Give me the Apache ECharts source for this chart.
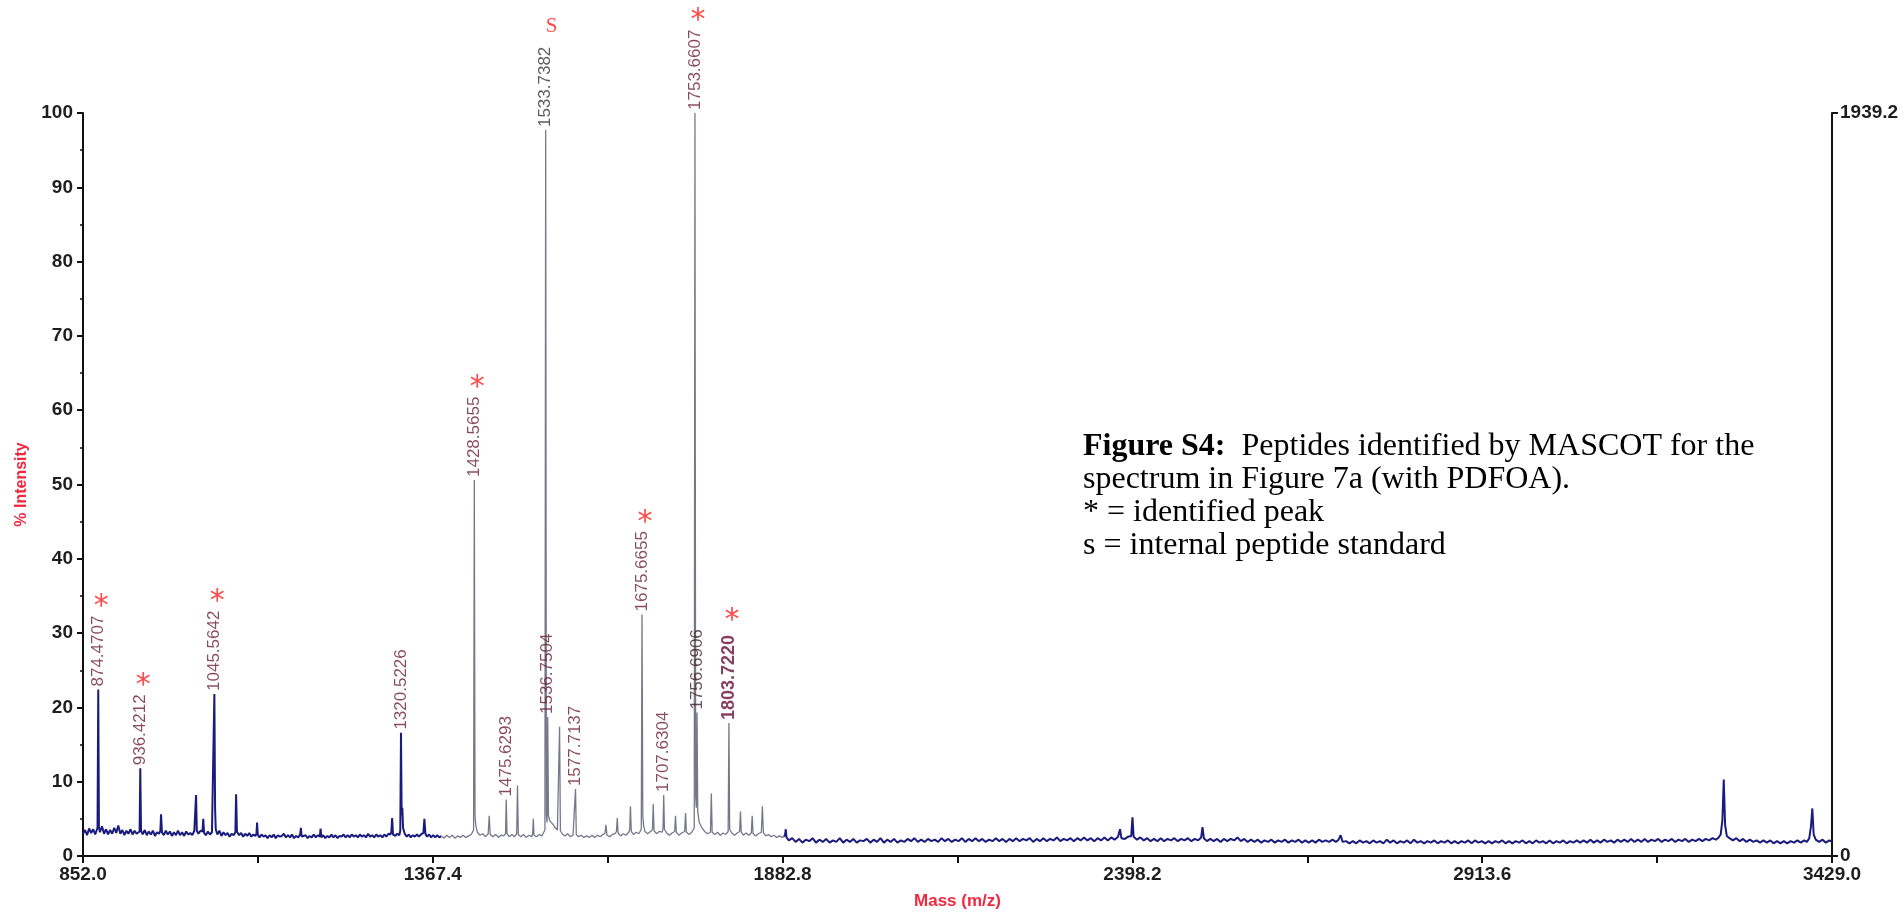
<!DOCTYPE html>
<html><head><meta charset="utf-8">
<script src="https://cdn.jsdelivr.net/npm/echarts@6/dist/echarts.min.js"></script>
<style>html,body{margin:0;padding:0;background:#fff}#c{width:1904px;height:915px}</style>
</head><body><div id="c"></div><script>
// ---- data ----
const xTickLabels = ['852.0', '1367.4', '1882.8', '2398.2', '2913.6', '3429.0'];
const rightAxisLabels = ['0', '1939.2'];

// trace segment 852-1380 (dark blue)
const leftTrace = [
[852,3.0],[855,3.5],[858,2.8],[861,3.7],[864,3.1],[867,3.6],[870,2.9],[873.4,3.8],[874.4707,22.4],[875.5,3.9],[877,3.2],[880,4.0],[883,3.0],[886,3.6],[889,2.9],[892,3.5],[895,3.0],[898,3.8],[901,3.1],[904,4.1],[907,3.0],[910,3.5],[913,2.8],[916,3.4],[919,3.0],[922,3.6],[925,2.9],[928,3.4],[931,3.0],[935.4,3.3],[936.4212,11.8],[937.5,3.4],[940,2.9],[943,3.5],[946,2.8],[949,3.3],[952,2.9],[955,3.4],[958,2.7],[961,3.2],[964,3.0],[966,3.4],[967,5.6],[968.3,3.2],[971,2.8],[974,3.4],[977,2.9],[980,3.3],[983,2.7],[986,3.2],[989,2.8],[992,3.4],[995,2.8],[998,3.2],[1001,2.7],[1004,3.3],[1007,2.9],[1010,3.1],[1013,2.8],[1016,3.4],[1017.6,3.6],[1018.6,8.2],[1019.7,3.4],[1022,3.0],[1025,3.4],[1028,3.3],[1029.2,5.0],[1030.4,3.1],[1033,2.8],[1036,3.3],[1039,2.9],[1042,3.2],[1044.5,3.4],[1045.5642,21.8],[1046.6,6.5],[1047.6,3.6],[1050,2.9],[1053,3.4],[1056,2.7],[1059,3.2],[1062,2.8],[1065,3.1],[1068,2.6],[1071,3.0],[1074,2.8],[1076.5,3.2],[1077.6,8.3],[1078.8,3.3],[1082,2.8],[1085,3.1],[1088,2.6],[1091,3.0],[1094,2.7],[1097,3.1],[1100,2.6],[1103,2.9],[1106,2.7],[1107.6,3.0],[1108.5,4.5],[1109.5,2.9],[1112,2.5],[1115,2.9],[1118,2.6],[1121,2.8],[1124,2.4],[1127,2.8],[1130,2.5],[1133,2.9],[1136,2.4],[1139,2.8],[1142,2.6],[1145,2.7],[1148,3.0],[1151,2.5],[1154,2.8],[1157,2.5],[1160,2.9],[1163,2.4],[1166,2.7],[1169,2.5],[1172,2.9],[1173,3.8],[1174.2,2.6],[1177,2.5],[1180,2.8],[1183,2.4],[1186,2.7],[1189,2.5],[1192,2.9],[1195,2.5],[1198,2.8],[1201,2.6],[1202,3.7],[1203.2,2.5],[1206,2.8],[1209,2.4],[1212,2.7],[1215,2.5],[1218,2.9],[1221,2.5],[1224,2.8],[1227,2.4],[1230,2.7],[1233,2.6],[1236,2.9],[1239,2.5],[1242,2.8],[1245,2.5],[1248,2.9],[1251,2.6],[1254,2.8],[1257,2.5],[1260,2.9],[1263,2.6],[1266,2.8],[1269,2.5],[1272,3.0],[1275,2.6],[1278,2.8],[1281,2.5],[1284,2.9],[1287,2.6],[1290,2.8],[1293,2.5],[1296,2.9],[1299,2.6],[1302,3.0],[1305,2.9],[1306.4,3.3],[1307.5,5.1],[1308.7,2.9],[1312,2.7],[1315,3.0],[1318,2.8],[1319.5,3.4],[1320.5226,16.6],[1321.5,5.5],[1322.5,6.5],[1323.6,3.8],[1326,3.0],[1329,2.6],[1332,2.9],[1335,2.5],[1338,2.8],[1341,2.6],[1344,2.9],[1347,2.6],[1350,2.9],[1353.5,3.1],[1355,5.0],[1356.5,3.0],[1359,2.6],[1362,2.9],[1365,2.5],[1368,2.8],[1371,2.5],[1374,2.8],[1377,2.5],[1380,2.7]
];
// trace segment 1380-1885 (grey)
const midTrace = [
[1380,2.7],[1384,2.4],[1388,2.8],[1392,2.5],[1396,2.8],[1400,2.4],[1404,2.7],[1408,2.5],[1412,2.8],[1416,2.5],[1420,2.7],[1424,2.9],[1427.5,3.5],[1428.5655,50.6],[1429.6,5.5],[1430.6,4.2],[1433,3.2],[1437,2.8],[1441,3.0],[1445,2.6],[1449,3.0],[1450.5,5.4],[1452,2.9],[1456,2.6],[1460,2.9],[1464,2.5],[1468,2.8],[1472,2.7],[1474.6,3.0],[1475.6293,7.6],[1476.7,3.0],[1480,2.6],[1484,2.9],[1488,2.6],[1491,3.0],[1492.2,9.5],[1493.4,2.9],[1497,2.6],[1501,2.9],[1505,2.5],[1509,2.8],[1513,2.6],[1514.5,3.0],[1515.5,5.0],[1516.5,2.8],[1520,2.6],[1524,2.9],[1528,2.7],[1532.6,3.5],[1533.7382,97.7],[1534.8,5.5],[1535.8,4.5],[1536.7504,18.7],[1537.8,5.5],[1539.5,4.8],[1542,4.5],[1545,4.2],[1548,3.8],[1551,3.5],[1553,3.6],[1554.2,17.4],[1555.4,3.4],[1558,3.0],[1562,2.7],[1566,3.0],[1570,2.6],[1574,2.8],[1576.7,3.0],[1577.7137,9.0],[1578.8,2.9],[1582,2.6],[1586,2.8],[1590,2.5],[1594,2.7],[1598,2.5],[1602,2.8],[1606,2.5],[1610,2.8],[1614,2.6],[1618,2.9],[1621,3.0],[1622.5,4.2],[1624,2.8],[1628,2.6],[1632,2.9],[1636,3.0],[1638,3.3],[1639.2,5.1],[1640.4,3.1],[1644,2.7],[1648,3.0],[1652,2.8],[1656,3.2],[1657.5,3.5],[1658.6,6.7],[1659.8,3.3],[1663,2.9],[1667,3.2],[1671,3.0],[1674.6,3.6],[1675.6655,32.5],[1676.8,5.5],[1677.8,4.2],[1680,3.3],[1684,3.0],[1688,3.3],[1691,3.5],[1692.2,7.0],[1693.4,3.4],[1697,3.0],[1701,3.3],[1705,3.2],[1706.6,3.6],[1707.6304,8.2],[1708.7,3.6],[1712,3.1],[1716,2.8],[1720,3.1],[1723.8,3.3],[1725,5.4],[1726.2,3.2],[1730,2.8],[1734,3.1],[1738.5,3.3],[1739.8,5.8],[1741,3.2],[1745,2.9],[1749,3.2],[1752.6,3.8],[1753.6607,100],[1754.7,8.0],[1755.7,6.5],[1756.6906,19.3],[1757.8,6.0],[1760,4.5],[1764,3.8],[1768,3.3],[1772,3.0],[1776.5,3.2],[1777.8,8.4],[1779,3.2],[1783,2.9],[1787,3.2],[1791,2.8],[1795,3.1],[1799,2.9],[1802.6,3.3],[1803.722,17.9],[1804.8,3.6],[1808,3.1],[1812,2.8],[1816,3.1],[1819.5,3.3],[1820.7,6.0],[1821.9,3.2],[1825,2.8],[1829,3.1],[1833,2.8],[1836.7,3.1],[1838,5.4],[1839.3,3.0],[1843,2.7],[1847,3.0],[1851.5,3.2],[1853,6.7],[1854.5,3.1],[1858,2.7],[1862,2.9],[1866,2.6],[1870,2.8],[1874,2.5],[1878,2.7],[1882,2.5],[1885,2.6]
];
// trace segment 1885-3429 (dark blue)
const rightTrace = [
[1885,2.6],[1886.5,2.9],[1887.5,3.6],[1888.5,2.5],[1892,2.1],[1897,2.4],[1902,1.9],[1907,2.3],[1912,1.8],[1917,2.2],[1922,2.0],[1927,2.4],[1932,1.8],[1937,2.2],[1942,1.9],[1947,2.3],[1952,1.8],[1957,2.1],[1962,1.9],[1967,2.4],[1972,1.8],[1977,2.2],[1982,1.9],[1987,2.3],[1992,1.8],[1997,2.1],[2002,2.0],[2007,2.3],[2012,1.8],[2017,2.2],[2022,1.9],[2027,2.4],[2032,1.8],[2037,2.2],[2042,1.9],[2047,2.3],[2052,1.8],[2057,2.1],[2062,1.9],[2067,2.3],[2072,2.0],[2077,2.4],[2082,1.9],[2087,2.2],[2092,1.9],[2097,2.3],[2102,2.0],[2107,2.2],[2112,1.9],[2117,2.4],[2122,2.0],[2127,2.3],[2132,1.9],[2137,2.2],[2142,2.0],[2147,2.4],[2152,1.9],[2157,2.3],[2162,2.0],[2167,2.4],[2172,2.0],[2177,2.3],[2182,1.9],[2187,2.2],[2192,2.0],[2197,2.4],[2202,2.0],[2207,2.3],[2212,1.9],[2217,2.3],[2222,2.0],[2227,2.4],[2232,2.0],[2237,2.3],[2242,2.1],[2247,2.4],[2252,1.9],[2257,2.3],[2262,2.0],[2267,2.4],[2272,2.0],[2277,2.3],[2282,2.1],[2287,2.5],[2292,2.0],[2297,2.3],[2302,2.1],[2307,2.4],[2312,2.0],[2317,2.4],[2322,2.1],[2327,2.5],[2332,2.1],[2337,2.4],[2342,2.0],[2347,2.4],[2352,2.1],[2357,2.5],[2362,2.1],[2367,2.5],[2372,2.2],[2377,2.6],[2380,3.6],[2382,2.4],[2387,2.3],[2392,2.6],[2396.5,2.7],[2398.3,5.2],[2400,2.6],[2405,2.2],[2410,2.5],[2415,2.1],[2420,2.4],[2425,2.0],[2430,2.3],[2435,2.0],[2440,2.4],[2445,2.0],[2450,2.3],[2455,2.1],[2460,2.4],[2465,2.0],[2470,2.3],[2475,2.1],[2480,2.4],[2485,2.0],[2490,2.3],[2495,2.1],[2499.5,2.5],[2501.5,3.9],[2503.5,2.4],[2508,2.0],[2513,2.3],[2518,2.0],[2523,2.3],[2528,1.9],[2533,2.3],[2538,2.0],[2543,2.3],[2548,2.1],[2553,2.5],[2558,2.0],[2563,2.3],[2568,1.9],[2573,2.2],[2578,1.9],[2583,2.2],[2588,1.8],[2593,2.1],[2598,1.9],[2603,2.2],[2608,1.8],[2613,2.1],[2618,1.9],[2623,2.2],[2628,1.8],[2633,2.1],[2638,1.9],[2643,2.2],[2648,1.8],[2653,2.1],[2658,1.8],[2663,2.1],[2668,1.8],[2673,2.2],[2678,1.9],[2683,2.1],[2688,1.9],[2693,2.2],[2698,1.9],[2702,2.2],[2705,2.8],[2708,1.9],[2713,2.0],[2718,1.7],[2723,2.0],[2728,1.7],[2733,2.1],[2738,1.8],[2743,2.0],[2748,1.7],[2753,2.1],[2758,1.8],[2763,2.0],[2768,1.7],[2773,2.2],[2778,1.8],[2783,2.1],[2788,1.7],[2793,2.0],[2798,1.8],[2803,2.1],[2808,1.7],[2813,2.2],[2818,1.8],[2823,2.0],[2828,1.7],[2833,2.0],[2838,1.8],[2843,2.1],[2848,1.7],[2853,2.0],[2858,1.8],[2863,2.1],[2868,1.7],[2873,2.0],[2878,1.7],[2883,2.0],[2888,1.8],[2893,2.1],[2898,1.7],[2903,2.1],[2908,1.8],[2913,2.0],[2918,1.7],[2923,2.0],[2928,1.7],[2933,2.0],[2938,1.8],[2943,2.1],[2948,1.7],[2953,2.0],[2958,1.7],[2963,2.0],[2968,1.8],[2973,2.1],[2978,1.7],[2983,2.0],[2988,1.7],[2993,2.1],[2998,1.8],[3003,2.0],[3008,1.7],[3013,2.1],[3018,1.7],[3023,2.0],[3028,1.8],[3033,2.1],[3038,1.7],[3043,2.0],[3048,1.8],[3053,2.1],[3058,1.8],[3063,2.1],[3068,1.8],[3073,2.2],[3078,1.8],[3083,2.1],[3088,1.8],[3093,2.2],[3098,1.9],[3103,2.1],[3108,1.8],[3113,2.2],[3118,1.9],[3123,2.2],[3128,1.9],[3133,2.3],[3138,1.9],[3143,2.2],[3148,1.9],[3153,2.3],[3158,1.9],[3163,2.2],[3168,2.0],[3173,2.3],[3178,1.9],[3183,2.2],[3188,2.0],[3193,2.3],[3198,1.9],[3203,2.2],[3208,2.0],[3213,2.3],[3218,1.9],[3223,2.2],[3228,2.0],[3233,2.3],[3238,2.0],[3243,2.3],[3248,2.1],[3253,2.4],[3258,2.2],[3262,2.5],[3265,2.9],[3267.5,4.8],[3269.5,10.3],[3271.5,4.2],[3274,2.7],[3278,2.4],[3283,2.1],[3288,2.4],[3293,2.0],[3298,2.3],[3303,1.9],[3308,2.2],[3313,1.9],[3318,2.1],[3323,1.8],[3328,2.1],[3333,1.8],[3338,2.1],[3343,1.7],[3348,2.0],[3353,1.7],[3358,2.0],[3363,1.7],[3368,2.0],[3373,1.8],[3378,2.1],[3383,1.8],[3388,2.1],[3392,1.9],[3395.5,2.4],[3398,4.0],[3400,6.4],[3402,2.9],[3405,2.2],[3410,1.9],[3415,2.2],[3420,1.8],[3425,2.1],[3429,1.9]
];

// labelled peaks
const peakMz  = [874.4707, 936.4212, 1045.5642, 1320.5226, 1428.5655, 1475.6293, 1533.7382, 1536.7504, 1577.7137, 1675.6655, 1707.6304, 1753.6607, 1756.6906, 1803.7220];
const peakInt = [22.4, 11.8, 21.8, 16.6, 50.6, 7.6, 97.7, 18.7, 9.0, 32.5, 8.2, 100, 19.3, 17.9];
const identifiedPeaks = [874.4707, 936.4212, 1045.5642, 1428.5655, 1675.6655, 1753.6607, 1803.7220];
const standardPeaks = [1533.7382];

// ---- chart ----
const ctx = document.createElement('canvas').getContext('2d');
const fmt = v => v.toFixed(4);
const boldLabel = { 1803.7220: true };
const darkLabel = { 1533.7382: '#333333', 1756.6906: '#40262e' };
const labelFont = m => boldLabel[m] ? 'bold 18px "Liberation Sans"' : '17px "Liberation Sans"';
const labelW = m => { ctx.font = labelFont(m); return ctx.measureText(fmt(m)).width; };

const peakData = peakMz.map((m, i) => ({
  value: [m, peakInt[i]],
  label: {
    color: darkLabel[m] || (boldLabel[m] ? '#6a0f35' : '#6c1e33'),
    fontWeight: boldLabel[m] ? 'bold' : 'normal',
    fontSize: boldLabel[m] ? 18 : 17
  }
}));
const starData = identifiedPeaks.map(m => {
  const i = peakMz.indexOf(m);
  return { value: [m, peakInt[i]], label: { offset: [3, -(labelW(m) + (boldLabel[m] ? 14 : 8))] } };
});
const stdData = standardPeaks.map(m => {
  const i = peakMz.indexOf(m);
  return { value: [m, peakInt[i]], label: { offset: [6, -(labelW(m) + 20)] } };
});

const NAVY = '#1b1b7d';
const GREY = '#77778a';

const chart = echarts.init(document.getElementById('c'), null, { renderer: 'canvas' });
chart.setOption({
  animation: false,
  backgroundColor: '#ffffff',
  grid: { left: 83, right: 72, top: 113, bottom: 55, containLabel: false },
  xAxis: {
    type: 'value', min: 852, max: 3429, interval: 257.7,
    name: 'Mass (m/z)', nameLocation: 'middle', nameGap: 37,
    nameTextStyle: { color: '#f2283f', fontSize: 17, fontWeight: 'bold', fontFamily: 'Liberation Sans' },
    axisLine: { show: true, lineStyle: { color: '#111', width: 2 } },
    axisTick: { show: true, length: 7, lineStyle: { color: '#111', width: 2 } },
    axisLabel: {
      margin: 9, color: '#1e1e1e', fontSize: 19, fontWeight: 'bold', fontFamily: 'Liberation Sans',
      formatter: v => { const k = Math.round((v - 852) / 257.7); return k % 2 === 0 ? (xTickLabels[k / 2] || '') : ''; }
    },
    splitLine: { show: false }
  },
  yAxis: [{
    type: 'value', min: 0, max: 100, interval: 10, position: 'left',
    name: '% Intensity', nameLocation: 'middle', nameGap: 53, nameRotate: 90,
    nameTextStyle: { color: '#f2283f', fontSize: 16, fontWeight: 'bold', fontFamily: 'Liberation Sans' },
    axisLine: { show: true, lineStyle: { color: '#111', width: 2 } },
    axisTick: { show: true, length: 6, lineStyle: { color: '#111', width: 2 } },
    minorTick: { show: true, splitNumber: 2, length: 3, lineStyle: { color: '#111', width: 1.5 } },
    axisLabel: { margin: 10, color: '#1e1e1e', fontSize: 19, fontWeight: 'bold', fontFamily: 'Liberation Sans' },
    splitLine: { show: false }
  }, {
    type: 'value', min: 0, max: 1939.2, interval: 1939.2, position: 'right',
    axisLine: { show: true, lineStyle: { color: '#111', width: 2 } },
    axisTick: { show: true, length: 6, lineStyle: { color: '#111', width: 2 } },
    axisLabel: { margin: 8, color: '#1e1e1e', fontSize: 19, fontWeight: 'bold', fontFamily: 'Liberation Sans',
      formatter: v => v === 0 ? rightAxisLabels[0] : rightAxisLabels[1] },
    splitLine: { show: false }
  }],
  series: [
    { type: 'line', data: leftTrace, showSymbol: false, symbol: 'none', lineStyle: { color: NAVY, width: 2 }, z: 3 },
    { type: 'line', data: midTrace, showSymbol: false, symbol: 'none', lineStyle: { color: GREY, width: 1.3 }, z: 3 },
    { type: 'line', data: rightTrace, showSymbol: false, symbol: 'none', lineStyle: { color: NAVY, width: 2 }, z: 3 },
    { type: 'scatter', data: peakData, symbolSize: 0.1, itemStyle: { color: 'transparent' }, z: 5,
      label: { show: true, position: 'top', distance: 3, rotate: 90, align: 'left', verticalAlign: 'middle',
        fontSize: 17, fontFamily: 'Liberation Sans', formatter: p => fmt(p.value[0]) } },
    { type: 'scatter', data: starData, symbolSize: 0.1, itemStyle: { color: 'transparent' }, z: 5,
      label: { show: true, position: 'top', distance: 3, align: 'center', verticalAlign: 'middle',
        fontSize: 30, fontFamily: 'DejaVu Sans', color: '#ff1a1a', formatter: '*' } },
    { type: 'scatter', data: stdData, symbolSize: 0.1, itemStyle: { color: 'transparent' }, z: 5,
      label: { show: true, position: 'top', distance: 3, align: 'center', verticalAlign: 'middle',
        fontSize: 21, fontFamily: 'Liberation Serif', color: '#ff1a1a', formatter: 'S' } }
  ],
  graphic: [{
    type: 'text', left: 1083, top: 430, z: 10,
    style: {
      text: '{b|Figure S4:}  Peptides identified by MASCOT for the\nspectrum in Figure 7a (with PDFOA).\n* = identified peak\ns = internal peptide standard',
      fontFamily: 'Liberation Serif', fontSize: 32, lineHeight: 33, fill: '#000',
      rich: { b: { fontWeight: 'bold', fontFamily: 'Liberation Serif', fontSize: 32, lineHeight: 33 } }
    }
  }]
});
</script></body></html>
